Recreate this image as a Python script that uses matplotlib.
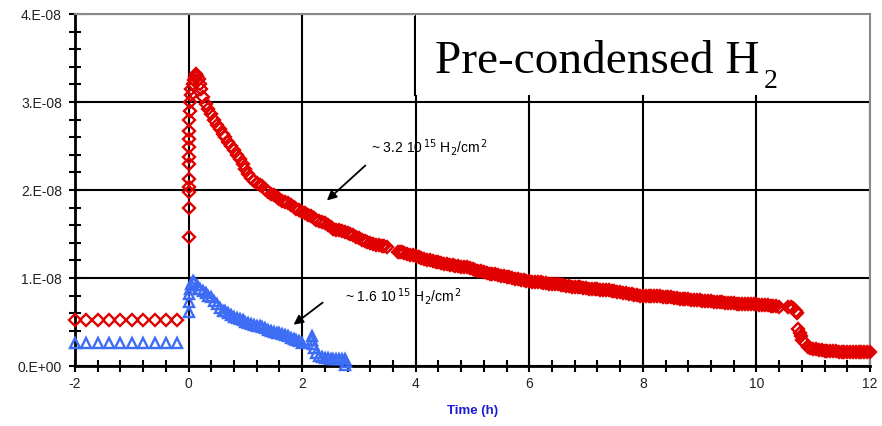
import numpy as np
import matplotlib
matplotlib.use("Agg")
import matplotlib.pyplot as plt
from matplotlib.patches import Rectangle
from matplotlib.ticker import MultipleLocator, FuncFormatter

# ---------------- data (values in units of 1e-8) ----------------
pre_t = [-2.0, -1.8, -1.6, -1.4, -1.2, -1.0, -0.8, -0.6, -0.4, -0.2]
red_pre = [0.52, 0.52, 0.52, 0.52, 0.52, 0.52, 0.52, 0.52, 0.52, 0.52]
blue_pre = [0.26, 0.26, 0.26, 0.26, 0.26, 0.26, 0.26, 0.26, 0.26, 0.26]

red_t = [0.0, 0.0, 0.0, 0.0, 0.0, 0.0, 0.0, 0.0, 0.0, 0.0, 0.01, 0.02, 0.03, 0.04,
         0.05, 0.07, 0.09, 0.11, 0.13, 0.15,
         0.18, 0.20, 0.22, 0.25, 0.30, 0.35, 0.40, 0.45, 0.50, 0.55, 0.60, 0.65,
         0.70, 0.75, 0.80, 0.85, 0.90, 0.95, 1.00, 1.05, 1.10, 1.15, 1.20, 1.25,
         1.30, 1.35, 1.40, 1.45, 1.50, 1.55, 1.60, 1.65, 1.70, 1.75, 1.80, 1.85,
         1.90, 1.95, 2.00, 2.05, 2.10, 2.15, 2.20, 2.25, 2.30, 2.35, 2.40, 2.45,
         2.50, 2.55, 2.60, 2.65, 2.70, 2.75, 2.80, 2.85, 2.90, 2.95, 3.00, 3.05,
         3.10, 3.15, 3.20, 3.25, 3.30, 3.35, 3.40, 3.45, 3.50,
         3.68, 3.72, 3.76, 3.80, 3.85, 3.90, 3.95, 4.00, 4.05, 4.10, 4.15, 4.20,
         4.25, 4.30, 4.35, 4.40, 4.45, 4.50, 4.55, 4.60, 4.65, 4.70, 4.75, 4.80,
         4.85, 4.90, 4.95, 5.00, 5.05, 5.10, 5.15, 5.20, 5.25, 5.30, 5.35, 5.40,
         5.45, 5.50, 5.55, 5.60, 5.65, 5.70, 5.75, 5.80, 5.85, 5.90, 5.95, 6.00,
         6.05, 6.10, 6.15, 6.20, 6.25, 6.30, 6.35, 6.40, 6.45, 6.50, 6.55, 6.60,
         6.65, 6.70, 6.75, 6.80, 6.85, 6.90, 6.95, 7.00, 7.05, 7.10, 7.15, 7.20,
         7.25, 7.30, 7.35, 7.40, 7.45, 7.50, 7.55, 7.60, 7.65, 7.70, 7.75, 7.80,
         7.85, 7.90, 7.95, 8.00, 8.05, 8.10, 8.15, 8.20, 8.25, 8.30, 8.35, 8.40,
         8.45, 8.50, 8.55, 8.60, 8.65, 8.70, 8.75, 8.80, 8.85, 8.90, 8.95, 9.00,
         9.05, 9.10, 9.15, 9.20, 9.25, 9.30, 9.35, 9.40, 9.45, 9.50, 9.55, 9.60,
         9.65, 9.70, 9.75, 9.80, 9.85, 9.90, 9.95, 10.00, 10.05, 10.10, 10.15,
         10.20, 10.25, 10.30, 10.35, 10.40,
         10.55, 10.60, 10.65, 10.70, 10.72, 10.74, 10.76, 10.78, 10.80, 10.85,
         10.90, 10.95, 11.00, 11.05, 11.10, 11.15, 11.20, 11.25, 11.30, 11.35,
         11.40, 11.45, 11.50, 11.55, 11.60, 11.65, 11.70, 11.75, 11.80, 11.85,
         11.90, 11.95, 12.00]
red_v = [1.47, 1.80, 1.98, 2.03, 2.13, 2.30, 2.37, 2.49, 2.58, 2.67, 2.80, 2.90,
         3.00, 3.08, 3.15, 3.20, 3.25, 3.28, 3.32, 3.30,
         3.26, 3.20, 3.15, 3.06, 2.98, 2.92, 2.86, 2.80, 2.74, 2.69, 2.64, 2.60,
         2.55, 2.50, 2.45, 2.40, 2.35, 2.30, 2.24, 2.18, 2.14, 2.10, 2.08, 2.06,
         2.04, 2.01, 1.98, 1.96, 1.94, 1.92, 1.90, 1.88, 1.86, 1.85, 1.83, 1.81,
         1.78, 1.77, 1.75, 1.74, 1.72, 1.70, 1.68, 1.66, 1.65, 1.64, 1.62, 1.60,
         1.58, 1.56, 1.55, 1.54, 1.53, 1.52, 1.51, 1.50, 1.49, 1.47, 1.45, 1.43,
         1.42, 1.41, 1.40, 1.39, 1.38, 1.37, 1.36, 1.36, 1.35,
         1.30, 1.29, 1.29, 1.28, 1.27, 1.26, 1.26, 1.25, 1.24, 1.23, 1.22, 1.21,
         1.20, 1.19, 1.18, 1.18, 1.17, 1.16, 1.16, 1.15, 1.15, 1.14, 1.14, 1.13,
         1.12, 1.12, 1.11, 1.10, 1.09, 1.08, 1.08, 1.07, 1.06, 1.05, 1.05, 1.04,
         1.03, 1.02, 1.02, 1.01, 1.01, 1.00, 0.99, 0.99, 0.98, 0.98, 0.97, 0.97,
         0.96, 0.96, 0.95, 0.95, 0.94, 0.94, 0.93, 0.93, 0.93, 0.93, 0.92, 0.92,
         0.91, 0.91, 0.90, 0.90, 0.90, 0.90, 0.89, 0.89, 0.88, 0.88, 0.87, 0.87,
         0.86, 0.86, 0.86, 0.86, 0.85, 0.85, 0.84, 0.84, 0.83, 0.83, 0.82, 0.82,
         0.81, 0.81, 0.80, 0.80, 0.80, 0.80, 0.80, 0.80, 0.79, 0.79, 0.78, 0.78,
         0.78, 0.78, 0.77, 0.77, 0.76, 0.76, 0.76, 0.76, 0.75, 0.75, 0.75, 0.75,
         0.74, 0.74, 0.74, 0.74, 0.73, 0.73, 0.73, 0.73, 0.72, 0.72, 0.72, 0.72,
         0.71, 0.71, 0.71, 0.71, 0.70, 0.70, 0.70, 0.70, 0.69, 0.69, 0.69,
         0.69, 0.68, 0.68, 0.68, 0.67,
         0.67, 0.67, 0.66, 0.63, 0.60, 0.42, 0.38, 0.34, 0.30, 0.26,
         0.22, 0.20, 0.19, 0.19, 0.18, 0.18, 0.17, 0.17, 0.17, 0.17,
         0.17, 0.16, 0.16, 0.16, 0.16, 0.16, 0.16, 0.16, 0.16, 0.16,
         0.16, 0.16, 0.16]

blue_t = [0.0, 0.0, 0.0, 0.02, 0.05, 0.07, 0.10, 0.15, 0.20, 0.25, 0.30, 0.35,
          0.40, 0.45, 0.50, 0.55, 0.60, 0.65, 0.70, 0.75, 0.80, 0.85, 0.90, 0.95,
          1.00, 1.05, 1.10, 1.15, 1.20, 1.25, 1.30, 1.35, 1.40, 1.45, 1.50, 1.55,
          1.60, 1.65, 1.70, 1.75, 1.80, 1.85, 1.90, 1.95, 2.00,
          2.17, 2.18, 2.19, 2.20, 2.25, 2.30, 2.35, 2.40, 2.45, 2.50, 2.55, 2.60,
          2.65, 2.70, 2.75, 2.78, 2.76]
blue_v = [0.61, 0.73, 0.82, 0.88, 0.93, 0.97, 0.95, 0.92, 0.88, 0.85, 0.83, 0.80,
          0.78, 0.74, 0.70, 0.66, 0.63, 0.62, 0.60, 0.58, 0.56, 0.55, 0.53, 0.52,
          0.50, 0.49, 0.48, 0.47, 0.46, 0.45, 0.44, 0.43, 0.41, 0.40, 0.39, 0.38,
          0.37, 0.36, 0.35, 0.34, 0.32, 0.31, 0.29, 0.28, 0.26,
          0.34, 0.30, 0.25, 0.20, 0.15, 0.11, 0.10, 0.09, 0.09, 0.08, 0.08, 0.08,
          0.08, 0.08, 0.08, 0.05, 0.01]

SCALE = 1e-8
RED = '#e00000'
BLUE = '#3d6cf5'

plt.rcParams['font.family'] = ['Liberation Sans', 'DejaVu Sans']

fig = plt.figure(figsize=(8.82, 4.27), dpi=100)
ax = fig.add_axes([75/882, 1-367/427, (870-75)/882, (367-15)/427])

d_ms = 6.0
t_ms = 6.5
mew = 1.7
ax.plot(pre_t, np.array(red_pre)*SCALE, linestyle='none', marker='D', ms=d_ms,
        mfc='none', mec=RED, mew=mew, zorder=3, clip_on=False)
ax.plot(red_t, np.array(red_v)*SCALE, linestyle='none', marker='D', ms=d_ms,
        mfc='none', mec=RED, mew=mew, zorder=3, clip_on=False)
ax.plot(pre_t, np.array(blue_pre)*SCALE, linestyle='none', marker='^', ms=t_ms,
        mfc='none', mec=BLUE, mew=mew, zorder=3, clip_on=False)
ax.plot(blue_t, np.array(blue_v)*SCALE, linestyle='none', marker='^', ms=t_ms,
        mfc='none', mec=BLUE, mew=mew, zorder=3, clip_on=False)

ax.set_xlim(-2, 12)
ax.set_ylim(0, 4e-8)
ax.xaxis.set_major_locator(MultipleLocator(2))
ax.xaxis.set_minor_locator(MultipleLocator(0.4))
ax.yaxis.set_major_locator(MultipleLocator(1e-8))
ax.yaxis.set_minor_locator(MultipleLocator(2e-9))

def yfmt(v, pos):
    if abs(v) < 1e-20:
        return '0.E+00'
    return '%d.E-08' % round(v / 1e-8)
ax.yaxis.set_major_formatter(FuncFormatter(yfmt))
ax.xaxis.set_major_formatter(FuncFormatter(lambda v, p: '%d' % round(v)))

ax.tick_params(axis='both', which='both', direction='inout', color='black',
               width=1.5, labelsize=10, labelcolor='#222222')
ax.tick_params(axis='both', which='major', length=9)
ax.tick_params(axis='both', which='minor', length=9)
ax.tick_params(axis='x', pad=3)
ax.tick_params(axis='y', pad=5)

ax.set_axisbelow(True)
ax.grid(True, which='major', color='black', linewidth=1.5)

for s in ['left', 'bottom']:
    ax.spines[s].set_color('black')
    ax.spines[s].set_linewidth(2)
for s in ['top', 'right']:
    ax.spines[s].set_color('#888888')
    ax.spines[s].set_linewidth(1.5)

# title box
ax.add_patch(Rectangle((4.0, 3.08e-8), 8.0, 0.92e-8, facecolor='white',
                       edgecolor='none', zorder=1.5))
ax.plot([3.97, 3.97], [3.08e-8, 3.98e-8], color='black', lw=0.8, zorder=1.6)
ax.text(435, 427 - 73, 'Pre-condensed H', transform=None,
        fontsize=34, family='Liberation Serif', ha='left', va='baseline',
        zorder=4)
ax.text(764, 427 - 88, '2', transform=None,
        fontsize=20, family='Liberation Serif', ha='left', va='baseline',
        zorder=4)

ax.set_xlabel('Time (h)', fontsize=9.5, fontweight='bold', color='#1a1ad6',
              labelpad=10)

# annotations
ax.annotate('', xy=(2.40, 1.86e-8), xytext=(3.15, 2.30e-8),
            arrowprops=dict(arrowstyle='-|>', color='black', lw=1.3,
                            mutation_scale=14))
ax.text(3.22, 2.49e-8, r'~ 3.2 10$^{\,15}$ H$_2$/cm$^{\,2}$', fontsize=10,
        ha='left', va='center', math_fontfamily='dejavusans')
ax.annotate('', xy=(1.81, 0.45e-8), xytext=(2.40, 0.74e-8),
            arrowprops=dict(arrowstyle='-|>', color='black', lw=1.3,
                            mutation_scale=14))
ax.text(2.76, 0.80e-8, r'~ 1.6 10$^{\,15}$ H$_2$/cm$^{\,2}$', fontsize=10,
        ha='left', va='center', math_fontfamily='dejavusans')

fig.savefig('out.png', dpi=100)
